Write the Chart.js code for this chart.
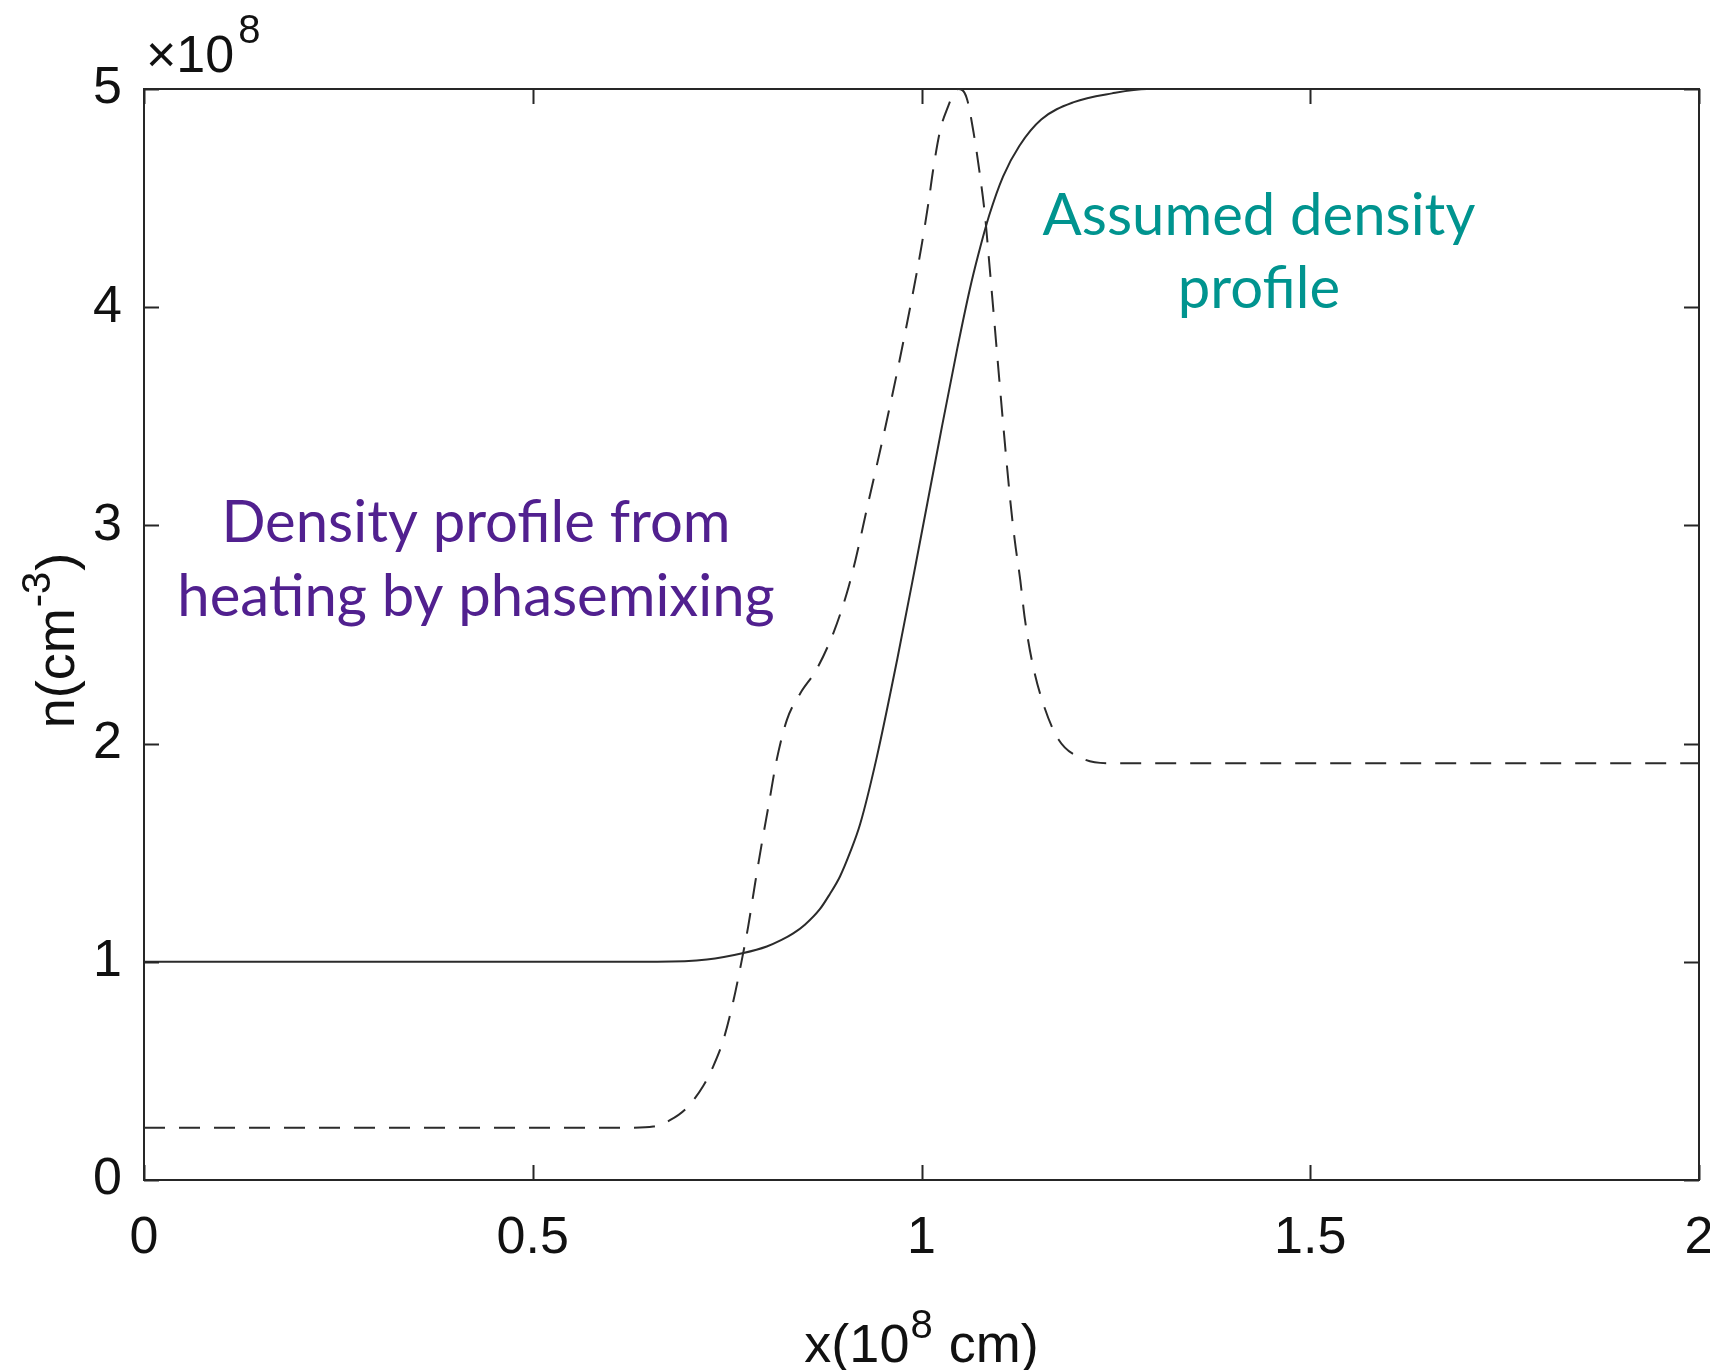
<!DOCTYPE html>
<html>
<head>
<meta charset="utf-8">
<script src="https://cdn.jsdelivr.net/npm/chart.js@4.4.1/dist/chart.umd.min.js"></script>
<style>
  html, body { margin: 0; padding: 0; background: #ffffff; }
  #wrap { width: 1710px; height: 1370px; }
</style>
</head>
<body>
<div id="wrap"><canvas id="c" width="1710" height="1370"></canvas></div>
<script>
// Assumed (model) density profile, x in 1e8 cm, n in 1e8 cm^-3
const xAssumed = [0, 0.66, 0.724, 0.771, 0.801, 0.820, 0.835, 0.850, 0.869, 0.882, 0.895, 0.908, 0.921, 0.942, 0.969, 0.993, 1.024, 1.046, 1.062, 1.073, 1.087, 1.105, 1.126, 1.154, 1.196, 1.245, 1.29, 2.0];
const nAssumed = [1.0, 1.0, 1.01, 1.04, 1.07, 1.10, 1.13, 1.17, 1.24, 1.31, 1.39, 1.50, 1.63, 1.93, 2.39, 2.83, 3.41, 3.81, 4.08, 4.24, 4.42, 4.60, 4.74, 4.86, 4.94, 4.98, 5.0, 5.0];

// Density profile resulting from phase-mixing heating
const xHeated = [0, 0.60, 0.629, 0.655, 0.677, 0.698, 0.719, 0.732, 0.745, 0.758, 0.769, 0.777, 0.786, 0.794, 0.803, 0.814, 0.827, 0.844, 0.865, 0.887, 0.904, 0.915, 0.930, 0.951, 0.972, 0.994, 1.000, 1.009, 1.015, 1.024, 1.032, 1.047, 1.058, 1.067, 1.075, 1.082, 1.086, 1.114, 1.120, 1.127, 1.133, 1.142, 1.155, 1.176, 1.208, 1.24, 2.0];
const nHeated = [0.24, 0.24, 0.24, 0.245, 0.275, 0.33, 0.43, 0.52, 0.64, 0.82, 1.01, 1.16, 1.36, 1.53, 1.71, 1.93, 2.11, 2.23, 2.34, 2.51, 2.69, 2.84, 3.08, 3.41, 3.76, 4.16, 4.28, 4.48, 4.63, 4.81, 4.90, 5.0, 4.96, 4.80, 4.61, 4.41, 4.25, 3.12, 2.93, 2.75, 2.57, 2.38, 2.20, 2.02, 1.93, 1.91, 1.91];

const xTicks = [0, 0.5, 1, 1.5, 2];
const nTicks = [0, 1, 2, 3, 4, 5];

const xTitle = ['x(10', '8', ' cm)'];      // base, superscript, base
const yTitle = ['n(cm', '-3', ')'];
const yExponent = ['\u00d710', '8'];

const assumedLabel = ['Assumed density', 'profile'];
const heatedLabel = ['Density profile from', 'heating by phasemixing'];

const AXIS_FONT = 'Liberation Sans, Arial, Helvetica, sans-serif';
const NOTE_FONT = 'Lato, "Open Sans", sans-serif';
const INK = '#262626';
const TEXT = '#111111';

const toPoints = (xs, ys) => xs.map((x, i) => ({ x: x, y: ys[i] }));

// draws [base, sup, base] as one run, centred on 0 along the baseline
function drawSupText(ctx, parts, baseSize, supSize, rise) {
  ctx.font = baseSize + 'px ' + AXIS_FONT;
  const w0 = ctx.measureText(parts[0]).width;
  const w2 = ctx.measureText(parts[2]).width;
  ctx.font = supSize + 'px ' + AXIS_FONT;
  const w1 = ctx.measureText(parts[1]).width;
  const total = w0 + w1 + w2 + 2;
  let x = -total / 2;
  ctx.textAlign = 'left';
  ctx.textBaseline = 'alphabetic';
  ctx.font = baseSize + 'px ' + AXIS_FONT;
  ctx.fillText(parts[0], x, 0);
  x += w0 + 1;
  ctx.font = supSize + 'px ' + AXIS_FONT;
  ctx.fillText(parts[1], x, -rise);
  x += w1 + 1;
  ctx.font = baseSize + 'px ' + AXIS_FONT;
  ctx.fillText(parts[2], x, 0);
}

// MATLAB-style box: inward tick marks on all four sides, axis titles, exponent label, annotations
const boxDecor = {
  id: 'boxDecor',
  afterDraw(chart) {
    const { ctx, chartArea: a, scales } = chart;
    const xs = scales.x, ys = scales.y;
    const tl = 15;
    ctx.save();
    ctx.strokeStyle = INK;
    ctx.lineWidth = 2;
    ctx.beginPath();
    xTicks.forEach(v => {
      const px = Math.round(xs.getPixelForValue(v)) + 0.5;
      ctx.moveTo(px, a.bottom); ctx.lineTo(px, a.bottom - tl);
      ctx.moveTo(px, a.top); ctx.lineTo(px, a.top + tl);
    });
    nTicks.forEach(v => {
      const py = Math.round(ys.getPixelForValue(v)) + 0.5;
      ctx.moveTo(a.left, py); ctx.lineTo(a.left + tl, py);
      ctx.moveTo(a.right, py); ctx.lineTo(a.right - tl, py);
    });
    ctx.stroke();

    ctx.fillStyle = TEXT;

    // x axis title
    ctx.save();
    ctx.translate((a.left + a.right) / 2, 1362);
    drawSupText(ctx, xTitle, 54, 40, 24);
    ctx.restore();

    // y axis title, reading upwards
    ctx.save();
    ctx.translate(74, (a.top + a.bottom) / 2 + 6);
    ctx.rotate(-Math.PI / 2);
    drawSupText(ctx, yTitle, 54, 40, 24);
    ctx.restore();

    // exponent of the y axis
    ctx.textBaseline = 'alphabetic';
    ctx.textAlign = 'left';
    ctx.font = '52px ' + AXIS_FONT;
    const baseX = a.left + 2;
    ctx.fillText(yExponent[0], baseX, a.top - 17);
    const w = ctx.measureText(yExponent[0]).width;
    ctx.font = '40px ' + AXIS_FONT;
    ctx.fillText(yExponent[1], baseX + w + 4, a.top - 46);

    // annotations
    ctx.font = '58px ' + NOTE_FONT;
    ctx.textAlign = 'center';
    ctx.fillStyle = '#00948f';
    const ax = xs.getPixelForValue(1.434);
    ctx.fillText(assumedLabel[0], ax, ys.getPixelForValue(4.33));
    ctx.fillText(assumedLabel[1], ax, ys.getPixelForValue(3.995));
    ctx.fillStyle = '#51208f';
    const hx = xs.getPixelForValue(0.427);
    ctx.fillText(heatedLabel[0], hx, ys.getPixelForValue(2.925));
    ctx.fillText(heatedLabel[1], hx, ys.getPixelForValue(2.586));
    ctx.restore();
  }
};

const fixedTicks = vals => scale => { scale.ticks = vals.map(v => ({ value: v })); };

new Chart(document.getElementById('c'), {
  type: 'line',
  data: {
    datasets: [
      {
        label: 'Assumed density profile',
        data: toPoints(xAssumed, nAssumed),
        borderColor: '#2b2b2b',
        borderWidth: 2,
        pointRadius: 0,
        cubicInterpolationMode: 'monotone',
        fill: false
      },
      {
        label: 'Density profile from heating by phasemixing',
        data: toPoints(xHeated, nHeated),
        borderColor: '#2b2b2b',
        borderWidth: 2,
        borderDash: [21, 14],
        pointRadius: 0,
        cubicInterpolationMode: 'monotone',
        fill: false
      }
    ]
  },
  options: {
    responsive: false,
    animation: false,
    devicePixelRatio: 1,
    layout: { padding: { top: 89, right: 11, left: 0, bottom: 0 } },
    plugins: { legend: { display: false }, tooltip: { enabled: false } },
    scales: {
      x: {
        type: 'linear', position: 'bottom', min: 0, max: 2,
        afterBuildTicks: fixedTicks(xTicks),
        grid: { drawOnChartArea: false, drawTicks: false },
        border: { display: true, color: INK, width: 2 },
        ticks: { color: TEXT, font: { size: 52, family: AXIS_FONT }, padding: 27, maxRotation: 0, autoSkip: false,
                 callback: v => String(v) },
        afterFit(s) { s.height = 190; s.paddingLeft = 0; s.paddingRight = 0; }
      },
      y: {
        type: 'linear', position: 'left', min: 0, max: 5,
        afterBuildTicks: fixedTicks(nTicks),
        grid: { drawOnChartArea: false, drawTicks: false },
        border: { display: true, color: INK, width: 2 },
        ticks: { color: TEXT, font: { size: 52, family: AXIS_FONT }, padding: 22, autoSkip: false,
                 callback: v => String(v) },
        afterFit(s) { s.width = 144; s.paddingTop = 0; s.paddingBottom = 0; }
      },
      xTop: {
        type: 'linear', position: 'top', min: 0, max: 2,
        grid: { drawOnChartArea: false, drawTicks: false },
        border: { display: true, color: INK, width: 2 },
        ticks: { display: false },
        afterFit(s) { s.height = 0; s.paddingLeft = 0; s.paddingRight = 0; }
      },
      yRight: {
        type: 'linear', position: 'right', min: 0, max: 5,
        grid: { drawOnChartArea: false, drawTicks: false },
        border: { display: true, color: INK, width: 2 },
        ticks: { display: false },
        afterFit(s) { s.width = 0; s.paddingTop = 0; s.paddingBottom = 0; }
      }
    }
  },
  plugins: [boxDecor]
});
</script>
</body>
</html>
